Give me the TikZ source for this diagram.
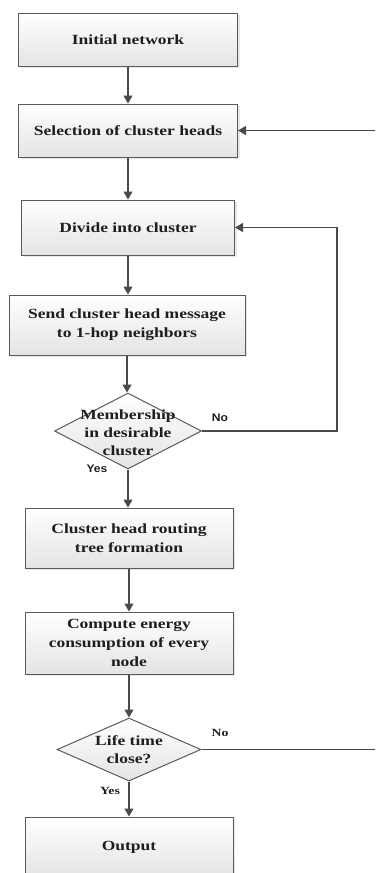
\documentclass[tikz,border=0pt]{standalone}
\usepackage{fontspec}
\setmainfont[FakeStretch=1.25]{Liberation Serif}
\newfontfamily\labelsans[FakeStretch=1.1]{Liberation Sans}
\usetikzlibrary{arrows.meta,shapes.geometric,shadows}

\definecolor{linegray}{HTML}{4A4A4A}
\definecolor{boxedge}{HTML}{5A5A5A}
\definecolor{boxgray}{HTML}{E4E4E4}
\definecolor{textdark}{HTML}{1E1E1E}

\tikzset{
  stepbox/.style={rectangle, draw=boxedge, line width=1pt,
    top color=white, bottom color=boxgray,
    drop shadow={opacity=0.18, shadow xshift=2pt, shadow yshift=-2pt},
    align=center, text=textdark, inner sep=2pt,
    font=\fontsize{14}{19}\selectfont\bfseries},
  decision/.style={diamond, draw=boxedge, line width=1pt,
    top color=white, bottom color=boxgray, inner sep=0pt},
  decisiontext/.style={align=center, text=textdark,
    font=\fontsize{14}{18}\selectfont\bfseries},
  branch/.style={text=textdark, font=\fontsize{11}{13}\selectfont\bfseries},
  flowline/.style={draw=linegray, line width=1.2pt}
}

\begin{document}
\begin{tikzpicture}[x=1pt, y=-1pt, >={Triangle[width=9pt,length=8pt]}]
\useasboundingbox (0,0) rectangle (375,873);

% process boxes
\node [stepbox, minimum width=219pt, minimum height=53pt] (b1) at (128,39.5) {Initial network};
\node [stepbox, minimum width=219pt, minimum height=53pt] (b2) at (128,130.5) {Selection of cluster heads};
\node [stepbox, minimum width=213pt, minimum height=55pt] (b3) at (128,227.5) {Divide into cluster};
\node [stepbox, minimum width=236pt, minimum height=60pt] (b4) at (127,325) {Send cluster head message\\to 1-hop neighbors};
\node [stepbox, minimum width=208pt, minimum height=60pt] (b5) at (129,538) {Cluster head routing\\tree formation};
\node [stepbox, minimum width=208pt, minimum height=62pt] (b6) at (129,643) {Compute energy\\consumption of every\\node};
\node [stepbox, minimum width=208pt, minimum height=60pt] (b7) at (129,847) {Output};

% decisions
\node [decision, minimum width=147pt, minimum height=76pt] (d1) at (128,431) {};
\node [decisiontext] (d1-text) at (128,433) {Membership\\in desirable\\cluster};
\node [decision, minimum width=144pt, minimum height=63pt] (d2) at (129,749.5) {};
\node [decisiontext] (d2-text) at (129,750) {Life time\\close?};

% main flow
\foreach \a/\b in {b1/b2, b2/b3, b3/b4, b4/d1, d1/b5, b5/b6, b6/d2, d2/b7}
  \draw [flowline, ->] (\a.south) -- (\a.south |- \b.north);

% loop back from first decision
\coordinate (loop) at (337,431);
\draw [flowline, ->] (d1.east) -- (loop) |- (b3.east);
\node [branch, font=\fontsize{11}{13}\labelsans\bfseries] (no1) at (220,418) {No};
\node [branch, font=\fontsize{11}{13}\labelsans\bfseries] (yes1) at (97,469) {Yes};

% off-page connections
\coordinate (in-top) at (375,130.5);
\draw [flowline, ->] (in-top) -- (b2.east);
\coordinate (out-bot) at (375,749.5);
\draw [flowline] (d2.east) -- (out-bot);
\node [branch] (no2) at (220,733) {No};
\node [branch] (yes2) at (110,791) {Yes};

\end{tikzpicture}
\end{document}
